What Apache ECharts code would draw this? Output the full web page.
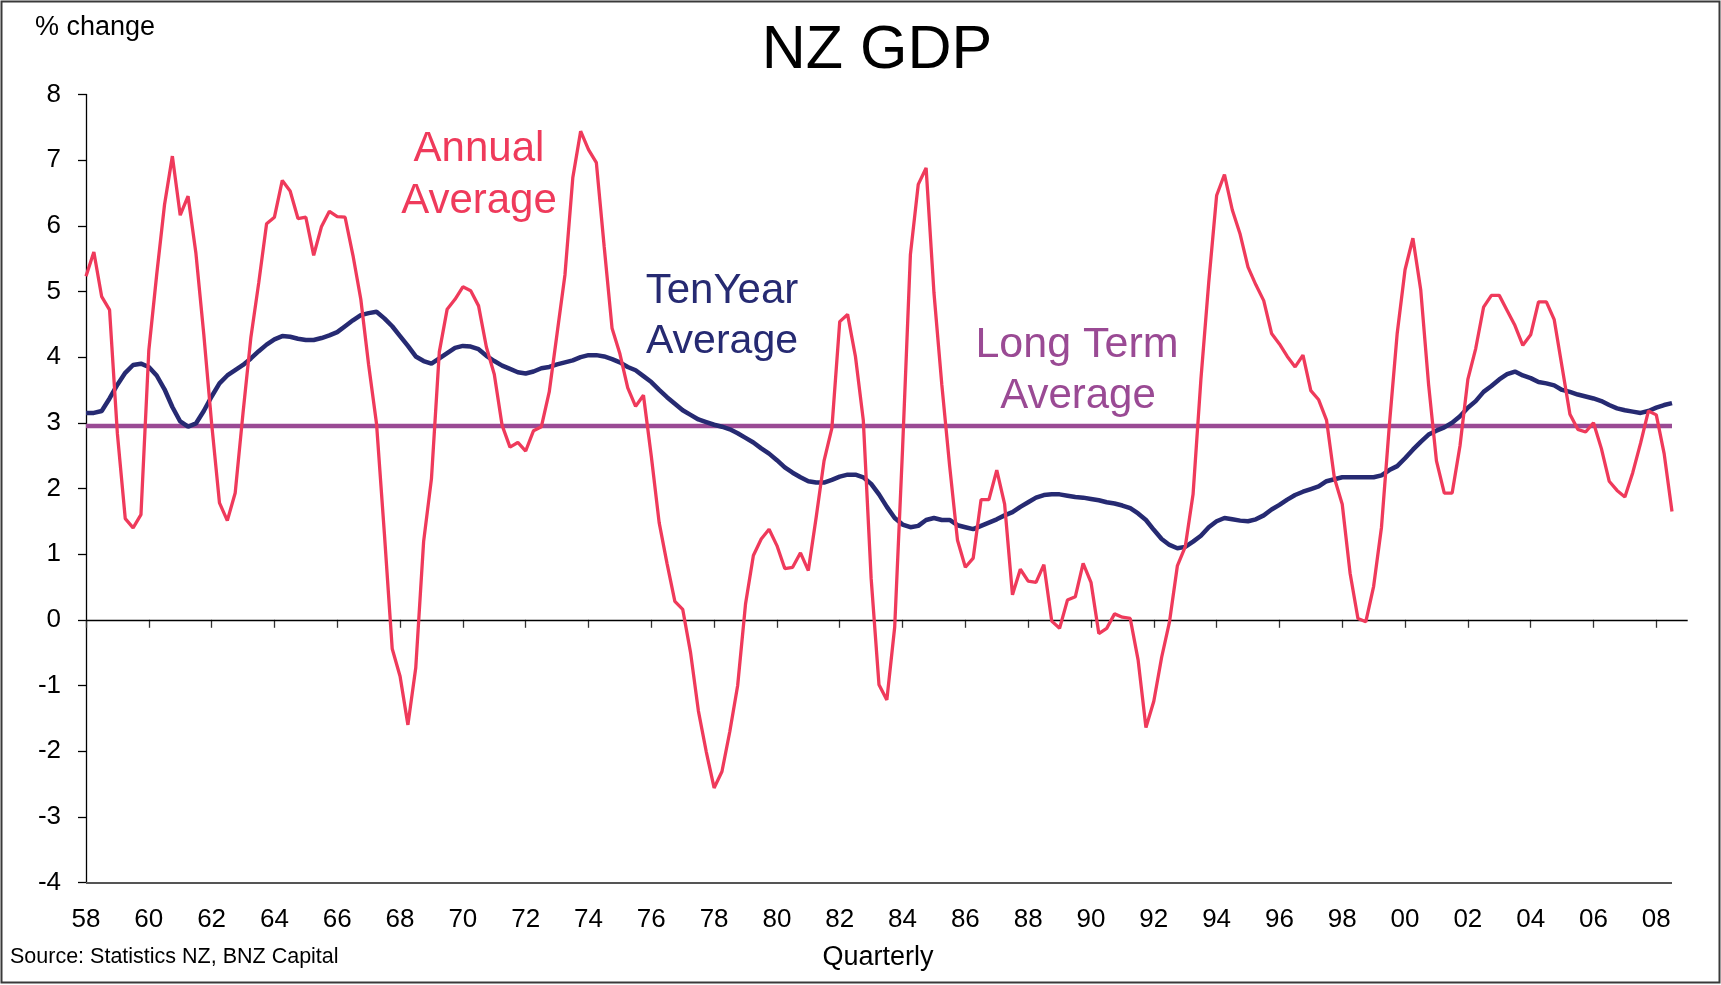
<!DOCTYPE html>
<html>
<head>
<meta charset="utf-8">
<script src="https://cdn.jsdelivr.net/npm/echarts@6/dist/echarts.min.js"></script>
<style>
html,body{margin:0;padding:0;background:#fff;}
#chart{width:1721px;height:985px;}
</style>
</head>
<body>
<div id="chart"></div>
<script>
// ---- DATA ----
const startYear = 1958;
const nCategories = 205; // quarterly slots 1958Q1 ... (axis extends a little past last data point)
const tickLabels = ['58','60','62','64','66','68','70','72','74','76','78','80','82','84','86','88','90','92','94','96','98','00','02','04','06','08'];

// Annual average % change, quarterly from 1958Q1 to 2008Q3
const annualAverage = [
 5.23,5.60,4.92,4.72, 2.83,1.54,1.40,1.60, 4.10,5.25,6.32,7.06, 6.16,6.45,5.58,4.35,
 2.99,1.78,1.51,1.93, 3.15,4.30,5.13,6.03, 6.13,6.69,6.53,6.11, 6.13,5.55,5.99,6.22,
 6.14,6.13,5.55,4.88, 3.88,2.99,1.32,-0.44, -0.86,-1.60,-0.73,1.19, 2.15,4.08,4.73,4.88,
 5.07,5.01,4.78,4.15, 3.74,2.96,2.63,2.70, 2.57,2.88,2.94,3.47, 4.36,5.25,6.73,7.44,
 7.16,6.96,5.68,4.44, 4.05,3.53,3.25,3.42, 2.49,1.48,0.86,0.28, 0.16,-0.50,-1.39,-2.01,
 -2.56,-2.31,-1.70,-1.00, 0.24,0.98,1.23,1.38, 1.13,0.78,0.80,1.02, 0.75,1.56,2.42,2.92,
 4.54,4.65,4.01,3.04, 0.63,-0.99,-1.22,-0.11, 2.60,5.56,6.63,6.88, 4.98,3.58,2.34,1.21,
 0.80,0.94,1.83,1.83, 2.28,1.76,0.38,0.77, 0.59,0.57,0.84,-0.02, -0.13,0.30,0.35,0.86,
 0.57,-0.21,-0.13,0.09, 0.04,0.02,-0.61,-1.64, -1.24,-0.57,-0.03,0.82, 1.11,1.91,3.66,5.14,
 6.46,6.78,6.24,5.87, 5.37,5.10,4.86,4.36, 4.20,4.01,3.85,4.03, 3.49,3.35,3.04,2.16,
 1.76,0.71,0.02,-0.03, 0.51,1.41,2.96,4.36, 5.33,5.81,5.02,3.58, 2.42,1.93,1.93,2.65,
 3.66,4.13,4.76,4.94, 4.94,4.71,4.48,4.18, 4.34,4.84,4.84,4.57, 3.85,3.13,2.90,2.86,
 3.00,2.61,2.11,1.97, 1.87,2.24,2.69,3.18, 3.12,2.53,1.65
];

// Ten-year average % change, quarterly from 1958Q1 to 2008Q3
const tenYearAverage = [
 3.15,3.15,3.18,3.37, 3.58,3.76,3.88,3.90, 3.85,3.72,3.51,3.24, 3.02,2.94,2.99,3.18,
 3.40,3.60,3.72,3.80, 3.88,3.98,4.09,4.19, 4.27,4.32,4.31,4.28, 4.26,4.26,4.29,4.33,
 4.38,4.47,4.56,4.64, 4.67,4.69,4.59,4.47, 4.32,4.17,4.01,3.94, 3.90,3.98,4.06,4.14,
 4.17,4.16,4.12,4.02, 3.94,3.87,3.82,3.77, 3.75,3.78,3.83,3.85, 3.89,3.92,3.95,4.00,
 4.03,4.03,4.01,3.97, 3.92,3.85,3.80,3.71, 3.62,3.50,3.39,3.29, 3.19,3.12,3.05,3.01,
 2.97,2.94,2.90,2.84, 2.77,2.70,2.61,2.53, 2.43,2.32,2.24,2.17, 2.11,2.09,2.09,2.13,
 2.18,2.21,2.21,2.17, 2.07,1.91,1.72,1.55, 1.45,1.41,1.43,1.52, 1.55,1.52,1.52,1.44,
 1.41,1.38,1.43,1.48, 1.53,1.59,1.64,1.72, 1.79,1.86,1.90,1.91, 1.91,1.89,1.87,1.86,
 1.84,1.82,1.79,1.77, 1.74,1.70,1.62,1.52, 1.37,1.23,1.14,1.09, 1.11,1.19,1.28,1.41,
 1.50,1.55,1.53,1.51, 1.50,1.53,1.59,1.68, 1.75,1.83,1.90,1.95, 1.99,2.03,2.11,2.14,
 2.17,2.17,2.17,2.17, 2.17,2.20,2.28,2.34, 2.46,2.59,2.71,2.82, 2.88,2.93,3.00,3.10,
 3.23,3.33,3.47,3.56, 3.66,3.74,3.78,3.72, 3.68,3.62,3.60,3.57, 3.50,3.47,3.43,3.40,
 3.37,3.33,3.27,3.22, 3.19,3.17,3.15,3.18, 3.23,3.27,3.30
];

// Long-term average (constant level)
const longTermAverageValue = 2.95;

// ---- BUILD ----
const categories = [];
for (let i = 0; i < nCategories; i++) {
  const y = startYear + Math.floor(i / 4);
  categories.push(String(y) + 'Q' + (i % 4 + 1));
}
const longTermAverage = annualAverage.map(() => longTermAverageValue);
const lastIdx = annualAverage.length - 1;

const FONT = "'Liberation Sans', Arial, Helvetica, sans-serif";
const RED = '#EF3A5B';
const NAVY = '#262A72';
const PURPLE = '#9A4A94';

const chart = echarts.init(document.getElementById('chart'), null, {renderer: 'canvas'});

function txt(text, x, y, size, color, align) {
  return {
    type: 'text', x: x, y: y, silent: true,
    style: {text: text, fill: color, font: size + 'px ' + FONT, textAlign: align || 'center', textVerticalAlign: 'middle'}
  };
}

chart.setOption({
  animation: false,
  backgroundColor: '#ffffff',
  grid: {left: 86, top: 94.4, right: 33.3, bottom: 102.5, containLabel: false},
  xAxis: {
    type: 'category',
    data: categories,
    boundaryGap: false,
    axisLine: {show: false},
    axisTick: {show: true, interval: 7, length: 8, lineStyle: {color: '#333', width: 1.3}},
    axisLabel: {
      interval: 7, margin: 24, color: '#000', fontSize: 26, lineHeight: 26, fontFamily: FONT,
      formatter: function (v, idx) { return tickLabels[idx / 8] !== undefined ? tickLabels[idx / 8] : ''; }
    },
    splitLine: {show: false}
  },
  yAxis: {
    type: 'value', min: -4, max: 8, interval: 1,
    axisLine: {show: true, lineStyle: {color: '#000', width: 1.3}},
    axisTick: {show: true, length: 8, lineStyle: {color: '#000', width: 1.3}},
    axisLabel: {margin: 25, color: '#000', fontSize: 26, fontFamily: FONT},
    splitLine: {show: false}
  },
  series: [
    {
      name: 'Long Term Average', type: 'line', data: longTermAverage, showSymbol: false,
      lineStyle: {color: PURPLE, width: 4.5}, z: 3, silent: true,
      markLine: {
        silent: true, symbol: 'none', label: {show: false}, animation: false,
        data: [
          {yAxis: 0, lineStyle: {color: '#000', width: 1.3, type: 'solid'}},
          [{coord: [0, -4], lineStyle: {color: '#555', width: 2, type: 'solid'}}, {coord: [lastIdx, -4]}]
        ]
      }
    },
    {
      name: 'Ten Year Average', type: 'line', data: tenYearAverage, showSymbol: false,
      lineStyle: {color: NAVY, width: 4.5}, z: 4, silent: true
    },
    {
      name: 'Annual Average', type: 'line', data: annualAverage, showSymbol: false,
      lineStyle: {color: RED, width: 3.3}, z: 5, silent: true
    }
  ],
  graphic: [
    {type: 'rect', silent: true, shape: {x: 1.5, y: 1.5, width: 1718, height: 981},
     style: {fill: 'none', stroke: '#3a3a3a', lineWidth: 2}},
    txt('NZ GDP', 877, 51, 61, '#000'),
    txt('% change', 35, 28, 27, '#000', 'left'),
    txt('Annual', 479, 149, 42, RED),
    txt('Average', 479, 201, 42, RED),
    txt('TenYear', 722, 291, 42, NAVY),
    txt('Average', 722, 342, 41, NAVY),
    txt('Long Term', 1077, 345, 43, PURPLE),
    txt('Average', 1078, 396, 42, PURPLE),
    txt('Quarterly', 878, 958, 27, '#000'),
    txt('Source: Statistics NZ, BNZ Capital', 10, 957, 21.5, '#000', 'left')
  ]
});
</script>
</body>
</html>
